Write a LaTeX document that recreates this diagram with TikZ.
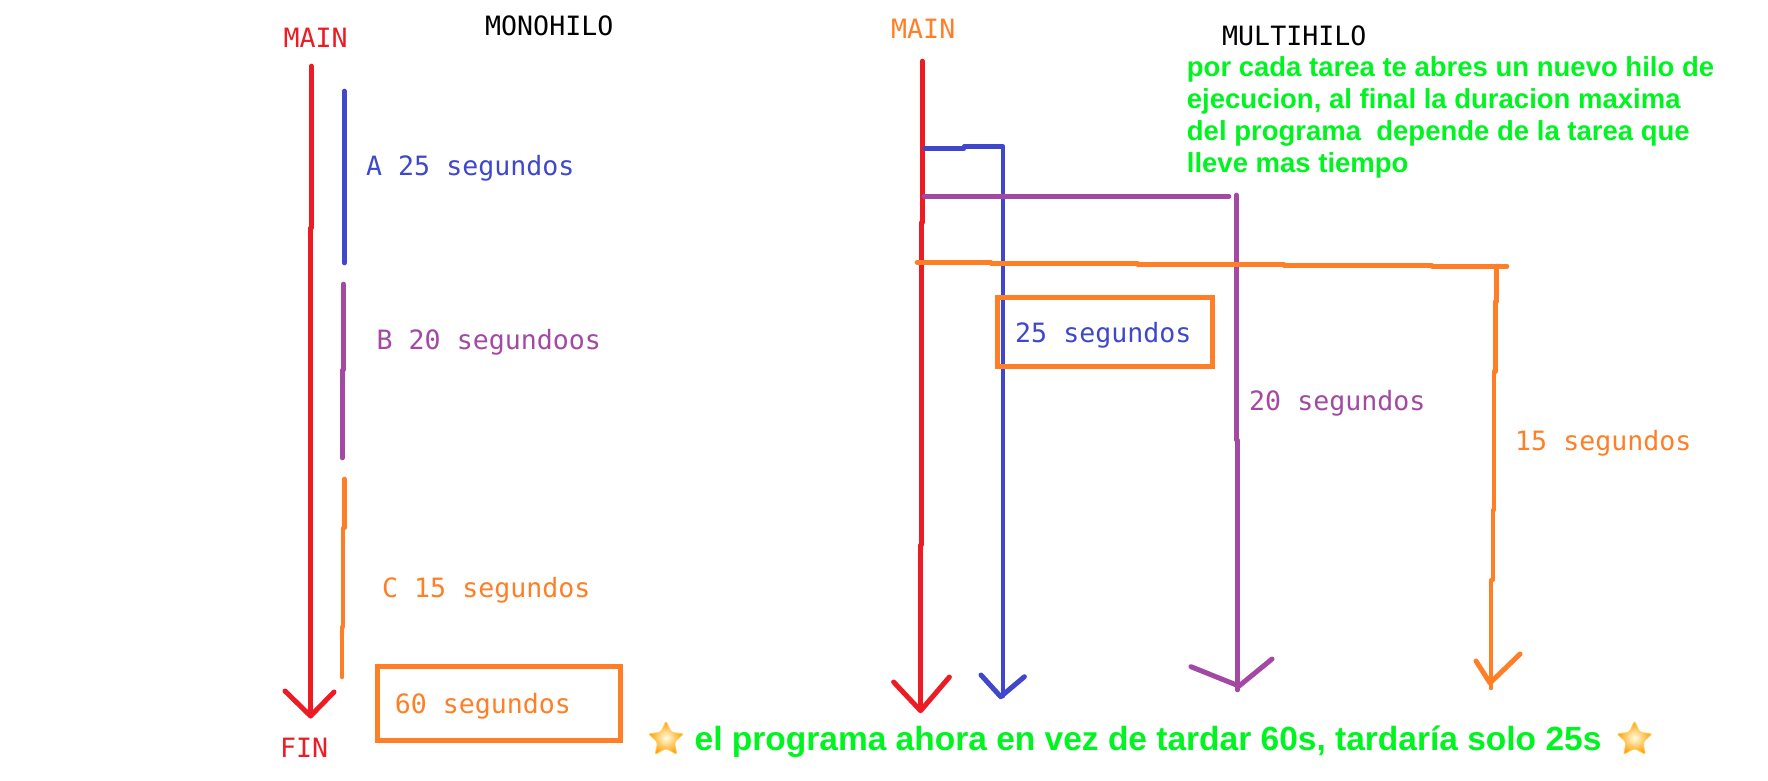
\documentclass[tikz,border=0pt]{standalone}
\usepackage{fontspec}
\usetikzlibrary{shapes.geometric}
\newfontfamily\monof{DejaVu Sans Mono}
\newfontfamily\sansb{Liberation Sans Bold}
\definecolor{pred}{HTML}{ED1C24}
\definecolor{pblue}{HTML}{3F48CC}
\definecolor{ppurple}{HTML}{A349A4}
\definecolor{porange}{HTML}{FF7F27}
\definecolor{pgreen}{HTML}{00F520}
\tikzset{
  x=1pt,y=-1pt,
  mono/.style={anchor=base west,inner sep=0pt,font=\monof\fontsize{26.6}{32}\selectfont},
  stroke/.style={line width=4.6pt,line cap=round,line join=round},
  headstroke/.style={line width=5pt,line cap=round,line join=round},
  framebox/.style={draw=porange,line width=5pt,line join=miter},
  note/.style={anchor=base west,inner sep=0pt,text=pgreen,font=\sansb\fontsize{27.5}{32}\selectfont,align=left},
  banner/.style={anchor=base west,inner sep=0pt,text=pgreen,font=\sansb\fontsize{33.5}{38}\selectfont},
  emojistar/.style={star,star points=5,star point ratio=2.1,minimum size=37pt,inner sep=0pt,rounded corners=2pt,
    draw=orange!55!yellow!70!white,line width=.8pt,
    inner color=yellow!12!white,outer color=orange!80!yellow},
}
\begin{document}
\begin{tikzpicture}
\useasboundingbox (0,0) rectangle (1768,780);
\fill[white] (0,0) rectangle (1768,780);

% --- MONOHILO ---
\draw[stroke,pred] (311.2,66) -- (311.2,228) -- (310.2,228) -- (310.2,716);
\draw[headstroke,pred] (285,691) -- (310.6,716) -- (334,692);
\draw[stroke,pblue] (344.4,91) -- (344.4,263);
\draw[stroke,ppurple] (343.3,284) -- (343.3,370) -- (342.2,370) -- (342.2,458);
\draw[stroke,porange] (344.4,479) -- (344.4,528) -- (343,528) -- (343,627) -- (342,627) -- (342,677);

\node[mono,text=pred] (mainA) at (283.5,47) {MAIN};
\node[mono,text=black] (mono) at (485,35) {MONOHILO};
\node[mono,text=pblue] (ta) at (366,175.7) {A 25 segundos};
\node[mono,text=ppurple] (tb) at (376.5,349) {B 20 segundoos};
\node[mono,text=porange] (tc) at (382,597) {C 15 segundos};
\node[mono,text=pred] (fin) at (280,757) {FIN};

\draw[framebox] (377.5,666.5) rectangle (620.5,740.5);
\node[mono,text=porange] (t60) at (394.6,713) {60 segundos};

% --- MULTIHILO ---
\draw[stroke,pred] (922.3,61) -- (922.3,222.7) -- (921.2,222.7) -- (921.2,545) -- (920.6,545) -- (920.6,710);
\draw[headstroke,pred] (893.6,682) -- (920.6,710.7) -- (949.4,677);

\draw[stroke,pblue] (925,148.3) -- (964,148.3) -- (964,146.7) -- (1003,146.7) -- (1003,696);
\draw[headstroke,pblue] (981,675) -- (1000.7,696.7) -- (1024.4,676.7);

\draw[stroke,ppurple] (1236.3,195) -- (1236.3,440) -- (1237.4,440) -- (1237.4,690);
\draw[line width=4.6pt,line cap=round,ppurple] (924,196.3) -- (1229,196.3);
\draw[headstroke,ppurple] (1191,666.7) -- (1239,686) -- (1272,659);

\draw[stroke,porange] (1496.7,266) -- (1496.7,301.7) -- (1495.6,301.7) -- (1495.6,371.7) -- (1494,371.7) -- (1494,510) -- (1492.8,510) -- (1492.8,580) -- (1491,580) -- (1491,688);
\draw[headstroke,porange] (1476,661) -- (1490,683) -- (1520,654);
\draw[line width=4.6pt,line cap=round,line join=round,porange] (917,262.3) -- (991,262.3) -- (991,263.3) -- (1137.7,263.3) -- (1137.7,264.3) -- (1284,264.3) -- (1284,265.3) -- (1432,265.3) -- (1432,266.3) -- (1507,266.3);

\node[mono,text=porange] (mainB) at (891,38) {MAIN};
\node[mono,text=black] (multi) at (1222,45) {MULTIHILO};
\draw[framebox] (997,297.5) rectangle (1212.5,366.5);
\node[mono,text=pblue] (t25) at (1015,342.7) {25 segundos};
\node[mono,text=ppurple] (t20) at (1249,410) {20 segundos};
\node[mono,text=porange] (t15) at (1515,450) {15 segundos};

% --- Green notes ---
\node[note] (para) at (1186.7,172.7) {por cada tarea te abres un nuevo hilo de\\ejecucion, al final la duracion maxima\\del programa\ \ depende de la tarea que\\lleve mas tiempo};
\node[banner] (ban) at (694.5,750) {el programa ahora en vez de tardar 60s, tardaría solo 25s};
\node[emojistar] (starL) at (666,739.5) {};
\node[emojistar] (starR) at (1634.5,739.5) {};
\end{tikzpicture}
\end{document}
